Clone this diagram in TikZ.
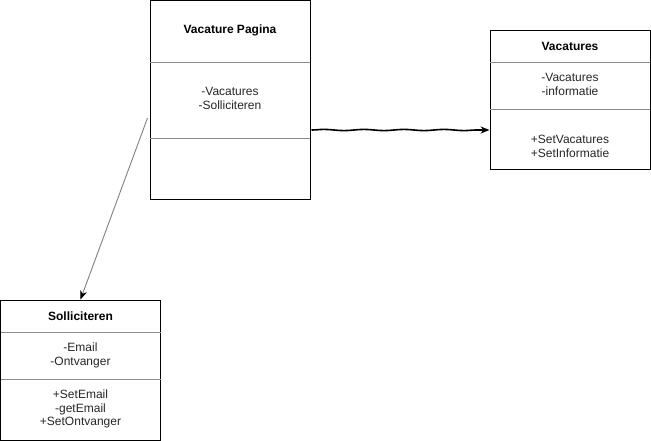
\documentclass[tikz,border=0pt]{standalone}
\usepackage{fontspec}
\setmainfont{Liberation Sans}
\usetikzlibrary{arrows.meta}
\usetikzlibrary{decorations.pathmorphing}

\tikzset{
  classbox/.style={draw=black, line width=1pt, fill=white, inner sep=0pt},
  divider/.style={draw=black!45, line width=0.8pt},
  titel/.style={font=\fontsize{12}{14}\selectfont\bfseries, inner sep=0pt},
  leden/.style={font=\fontsize{12}{13.8}\selectfont, text=black!85, align=center, inner sep=0pt},
  pijl/.style={-{Stealth[length=9pt,width=7pt,color=black]}},
}

\begin{document}
\begin{tikzpicture}[x=1pt,y=-1pt]
        \useasboundingbox[fill=white] (0,0) rectangle (651,441);
        % Klassen
        \node[classbox, minimum width=160pt, minimum height=199pt] (pagina) at (230,100) {};
        \node[classbox, minimum width=160pt, minimum height=139pt] (vac) at (570,100.5) {};
        \node[classbox, minimum width=160pt, minimum height=140pt] (soll) at (80.5,370) {};
        % Vakken
        \draw[divider] (150,62) -- (310,62);
        \draw[divider] (150,138) -- (310,138);
        \draw[divider] (490,62) -- (650,62);
        \draw[divider] (490,109) -- (650,109);
        \draw[divider] (0.5,332) -- (160.5,332);
        \draw[divider] (0.5,379) -- (160.5,379);
        % Teksten
        \node[titel] (paginatitel) at (230,30) {Vacature Pagina};
        \node[leden] (paginaattr) at (230,98.5) {-Vacatures\\-Solliciteren};
        \node[titel] (vactitel) at (570,46) {Vacatures};
        \node[leden] (vacattr) at (570,84.5) {-Vacatures\\-informatie};
        \node[leden] (vacmeth) at (570,146.5) {+SetVacatures\\+SetInformatie};
        \node[titel] (solltitel) at (80.5,316) {Solliciteren};
        \node[leden] (sollattr) at (80.5,355.5) {-Email\\-Ontvanger};
        \node[leden] (sollmeth) at (80.5,409) {+SetEmail\\-getEmail\\+SetOntvanger};
        % Verbindingen
        \coordinate (links) at ([xshift=-2pt,yshift=-18pt]pagina.west);
        \coordinate (rechts) at ([xshift=1pt,yshift=-30pt]pagina.east);
        \draw[pijl, draw=black!50, line width=0.9pt] (links) -- (soll.north);
        \draw[pijl, line width=1.6pt, decorate,
              decoration={snake, amplitude=0.6pt, segment length=40pt, post length=10pt}]
              (rechts) -- (vac.west |- rechts);
    \end{tikzpicture}
\end{document}
